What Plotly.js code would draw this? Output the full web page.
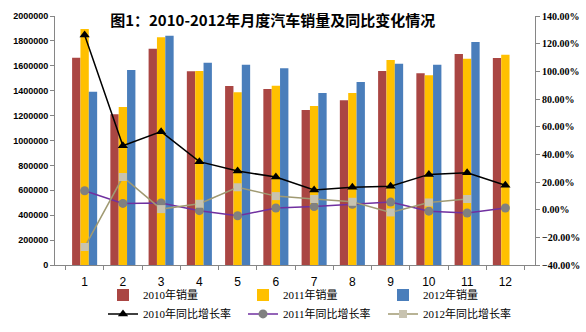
<!DOCTYPE html>
<html>
<head>
<meta charset="utf-8">
<script src="https://cdn.plot.ly/plotly-3.0.1.min.js"></script>
<style>html,body{margin:0;padding:0;background:#fff;}#chart{width:586px;height:332px;}</style>
</head>
<body>
<div id="chart"></div>
<script>
const months = ['1','2','3','4','5','6','7','8','9','10','11','12'];
const sales2010 = [1665000, 1210000, 1737000, 1557000, 1438000, 1414000, 1245000, 1323000, 1558000, 1540000, 1695000, 1663000];
const sales2011 = [1895000, 1269000, 1829000, 1558000, 1387000, 1440000, 1277000, 1382000, 1647000, 1524000, 1657000, 1689000];
const sales2012 = [1392000, 1566000, 1842000, 1625000, 1609000, 1580000, 1382000, 1470000, 1617000, 1609000, 1791000, null];
const growth2010 = [126.3, 46.2, 56.4, 34.7, 27.9, 23.6, 14.3, 16.2, 16.9, 25.5, 26.7, 17.7];
const growth2011 = [13.7, 4.5, 4.8, -0.7, -4.4, 1.2, 2.2, 3.9, 5.5, -1.1, -2.4, 1.2];
const growth2012 = [-27.0, 23.6, 0.4, 4.3, 16.2, 9.8, 7.7, 5.7, -2.0, 5.2, 7.7, null];
const names = ['2010年销量','2011年销量','2012年销量','2010年同比增长率','2011年同比增长率','2012年同比增长率'];

const traces = [
  {type:'bar', x:months, y:sales2010, name:names[0], marker:{color:'#AA4643'}},
  {type:'bar', x:months, y:sales2011, name:names[1], marker:{color:'#FFC000'}},
  {type:'bar', x:months, y:sales2012, name:names[2], marker:{color:'#4A7EBB'}},
  {type:'scatter', mode:'lines+markers', x:months, y:growth2010, name:names[3], yaxis:'y2',
   line:{color:'#000000', width:1.5}, marker:{symbol:'triangle-up', size:9, color:'#000000'}},
  {type:'scatter', mode:'lines+markers', x:months, y:growth2011, name:names[4], yaxis:'y2',
   line:{color:'#7030A0', width:1.5}, marker:{symbol:'circle', size:9, color:'#808080'}},
  {type:'scatter', mode:'lines+markers', x:months, y:growth2012, name:names[5], yaxis:'y2',
   line:{color:'#A09A72', width:1.5}, marker:{symbol:'square', size:8, color:'#C8C3B0'}}
];

const layout = {
  width:586, height:332,
  margin:{l:55, r:51, t:16, b:67, autoexpand:false},
  paper_bgcolor:'#ffffff', plot_bgcolor:'#ffffff',
  barmode:'group', bargap:0.345, bargroupgap:0,
  title:{text:'图1：2010-2012年月度汽车销量及同比变化情况', x:0.188, xanchor:'left', y:0.938, yanchor:'middle',
         font:{family:'Noto Sans CJK SC, sans-serif', size:15, color:'#000', weight:'bold'}},
  xaxis:{type:'category', showgrid:false, showline:true, linecolor:'#868686', linewidth:1,
         ticks:'outside', ticklen:4, tickcolor:'#868686', tickson:'boundaries', ticklabelstandoff:6,
         tickfont:{family:'Liberation Sans, Arial, sans-serif', size:12, color:'#000'}},
  yaxis:{range:[0,2000000], dtick:200000, tickformat:'d', showgrid:false, zeroline:false,
         showline:true, linecolor:'#868686', ticks:'outside', ticklen:4, tickcolor:'#868686',
         tickfont:{family:'Liberation Sans, Arial, sans-serif', size:9, color:'#000', weight:'bold'}},
  yaxis2:{overlaying:'y', side:'right', range:[-40,140], dtick:20, tickformat:'.2f', ticksuffix:'%',
          showgrid:false, zeroline:false, showline:true, linecolor:'#868686', ticks:'outside', ticklen:4, tickcolor:'#868686',
          tickfont:{family:'Liberation Serif, Times New Roman, serif', size:10, color:'#000', weight:'bold'}},
  showlegend:true,
  legend:{orientation:'h', x:0.1, xanchor:'left', y:-0.062, yanchor:'top', traceorder:'normal',
          entrywidth:95, entrywidthmode:'pixels', itemwidth:30, tracegroupgap:0,
          font:{family:'Liberation Serif, Noto Sans CJK SC, serif', size:11, color:'#000'},
          bgcolor:'rgba(0,0,0,0)'}
};

Plotly.newPlot('chart', traces, layout, {displayModeBar:false, staticPlot:true});
</script>
</body>
</html>
